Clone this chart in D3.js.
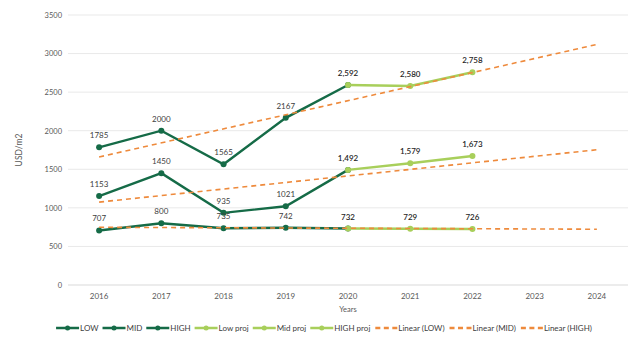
<!DOCTYPE html>
<html>
<head>
<meta charset="utf-8">
<script src="https://cdn.jsdelivr.net/npm/d3@7"></script>
<style>
  html, body { margin: 0; padding: 0; background: #fff; overflow: hidden; }
  svg { display: block; }
  text { font-family: Lato, "Open Sans", sans-serif; }
</style>
</head>
<body>
<div id="plot"></div>
<script>
// data
const years = ["2016", "2017", "2018", "2019", "2020", "2021", "2022", "2023", "2024"];
const histYears = ["2016", "2017", "2018", "2019", "2020"];
const projYears = ["2020", "2021", "2022"];

const lowHist = [707, 800, 735, 742, 732];
const midHist = [1153, 1450, 935, 1021, 1492];
const highHist = [1785, 2000, 1565, 2167, 2592];
const lowProj = [732, 729, 726];
const midProj = [1492, 1579, 1673];
const highProj = [2592, 2580, 2758];

const yTicks = [0, 500, 1000, 1500, 2000, 2500, 3000, 3500];

const dark = "#156b47";
const light = "#a8cf5b";
const orange = "#ee8a3c";

// size
const w = 640;
const h = 338;
const margin = {top: 15, right: 12, bottom: 53, left: 68};
const innerWidth = w - margin.left - margin.right;
const innerHeight = h - margin.top - margin.bottom;

const svg = d3.select("div#plot")
  .append("svg")
    .attr("width", w)
    .attr("height", h);

const g = svg.append("g")
  .attr("transform", `translate(${margin.left}, ${margin.top})`);

const xScale = d3.scaleBand()
  .domain(years)
  .range([0, innerWidth]);

const xc = d => xScale(d) + xScale.bandwidth() / 2;

const yScale = d3.scaleLinear()
  .domain([0, 3500])
  .range([innerHeight, 0]);

// gridlines
g.selectAll("line.grid")
  .data(yTicks)
  .enter()
  .append("line")
    .attr("x1", 0)
    .attr("x2", innerWidth)
    .attr("y1", d => yScale(d))
    .attr("y2", d => yScale(d))
    .attr("stroke", d => d == 0 ? "#d9d9d9" : "#e9e9e9")
    .attr("stroke-width", 1);

// y axis
const yAxis = d3.axisLeft(yScale)
  .tickValues(yTicks)
  .tickFormat(d3.format("d"))
  .tickSize(0)
  .tickPadding(6);
g.append("g")
  .call(yAxis)
  .attr("font-family", "Lato, sans-serif")
  .attr("font-size", 7.5)
  .call(s => s.select(".domain").remove())
  .selectAll("text")
    .attr("fill", "#595959");

// x axis
const xAxis = d3.axisBottom(xScale).tickSize(0).tickPadding(8);
g.append("g")
  .attr("transform", `translate(0, ${innerHeight})`)
  .call(xAxis)
  .attr("font-family", "Lato, sans-serif")
  .attr("font-size", 8)
  .call(s => s.select(".domain").remove())
  .selectAll("text")
    .attr("fill", "#595959");

// axis titles
g.append("text")
  .attr("x", innerWidth / 2)
  .attr("y", innerHeight + 27)
  .attr("text-anchor", "middle")
  .attr("fill", "#595959")
  .attr("font-size", 7.5)
  .text("Years");

g.append("text")
  .attr("transform", "rotate(-90)")
  .attr("x", -135)
  .attr("y", 22 - margin.left)
  .attr("text-anchor", "middle")
  .attr("fill", "#595959")
  .attr("font-size", 8.5)
  .text("USD/m2");

const line = d3.line()
  .x(d => xc(d[0]))
  .y(d => yScale(d[1]));

const series = [
  {name: "LOW", yrs: histYears, vals: lowHist, color: dark, proj: false},
  {name: "MID", yrs: histYears, vals: midHist, color: dark, proj: false},
  {name: "HIGH", yrs: histYears, vals: highHist, color: dark, proj: false},
  {name: "Low proj", yrs: projYears, vals: lowProj, color: light, proj: true},
  {name: "Mid proj", yrs: projYears, vals: midProj, color: light, proj: true},
  {name: "HIGH proj", yrs: projYears, vals: highProj, color: light, proj: true}
];

series.forEach(s => {
  const pts = s.yrs.map((y, i) => [y, s.vals[i]]);
  g.append("path")
    .datum(pts)
    .attr("d", line)
    .attr("fill", "none")
    .attr("stroke", s.color)
    .attr("stroke-width", 2.4);
  g.selectAll(null)
    .data(pts)
    .enter()
    .append("circle")
      .attr("cx", d => xc(d[0]))
      .attr("cy", d => yScale(d[1]))
      .attr("r", 3)
      .attr("fill", s.color);
});

// linear trendlines (least squares over historic + projected values)
const trends = [
  {name: "Linear (LOW)", vals: lowHist.slice(0, 4).concat(lowProj)},
  {name: "Linear (MID)", vals: midHist.slice(0, 4).concat(midProj)},
  {name: "Linear (HIGH)", vals: highHist.slice(0, 4).concat(highProj)}
];

trends.forEach(t => {
  const n = t.vals.length;
  const xs = d3.range(1, n + 1);
  const mx = d3.mean(xs);
  const my = d3.mean(t.vals);
  const slope = d3.sum(xs, (x, i) => (x - mx) * (t.vals[i] - my)) / d3.sum(xs, x => (x - mx) * (x - mx));
  const pts = [[years[0], my + slope * (1 - mx)], [years[years.length - 1], my + slope * (years.length - mx)]];
  g.append("path")
    .datum(pts)
    .attr("d", line)
    .attr("fill", "none")
    .attr("stroke", orange)
    .attr("stroke-width", 1.6)
    .attr("stroke-dasharray", "5,4");
});

// data labels
series.forEach(s => {
  const pts = s.yrs.map((y, i) => [y, s.vals[i]]);
  const shown = s.proj ? pts : pts.slice(0, 4);
  g.selectAll(null)
    .data(shown)
    .enter()
    .append("text")
      .attr("x", d => xc(d[0]))
      .attr("y", d => yScale(d[1]) - 9)
      .attr("text-anchor", "middle")
      .attr("fill", s.proj ? "#262626" : "#404040")
      .attr("font-size", 8)
      .attr("font-weight", s.proj ? 600 : 400)
      .text(d => s.proj ? d3.format(",")(d[1]) : d[1]);
});

// legend
const legend = svg.append("g");
let lx = 0;
const items = series.map(s => ({name: s.name, color: s.color, dash: false}))
  .concat(trends.map(t => ({name: t.name, color: orange, dash: true})));

items.forEach(it => {
  const item = legend.append("g").attr("transform", `translate(${lx}, 0)`);
  if (it.dash) {
    item.append("line")
      .attr("x1", 1).attr("x2", 23).attr("y1", 0).attr("y2", 0)
      .attr("stroke", it.color)
      .attr("stroke-width", 2.5)
      .attr("stroke-dasharray", "5,3.5");
  } else {
    item.append("line")
      .attr("x1", 0).attr("x2", 23).attr("y1", 0).attr("y2", 0)
      .attr("stroke", it.color)
      .attr("stroke-width", 2.5);
    item.append("circle")
      .attr("cx", 11.5).attr("cy", 0).attr("r", 2.5)
      .attr("fill", it.color);
  }
  const txt = item.append("text")
    .attr("x", 24)
    .attr("y", 2.8)
    .attr("fill", "#404040")
    .attr("font-size", 8)
    .text(it.name);
  lx += 24 + txt.node().getComputedTextLength() + 4;
});
legend.attr("transform", `translate(${324 - (lx - 4) / 2}, 328)`);
</script>
</body>
</html>
